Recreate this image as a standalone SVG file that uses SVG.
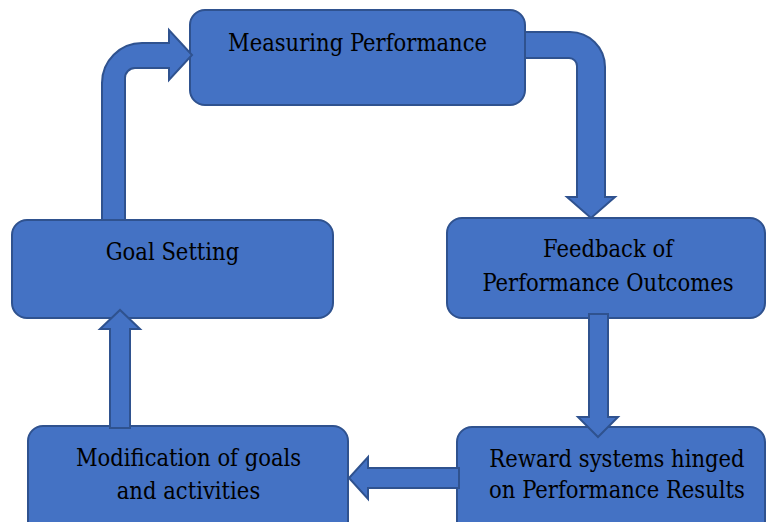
<svg xmlns="http://www.w3.org/2000/svg" width="766" height="522" viewBox="0 0 766 522">
<style>
.box{fill:#4472C4;stroke:#2F528F;stroke-width:2}
.arr{fill:#4472C4;stroke:#2F528F;stroke-width:2;stroke-linejoin:miter}
.t{font-family:'DejaVu Serif Condensed','DejaVu Serif',serif;font-stretch:condensed;font-size:23.5px;fill:#000;text-anchor:middle}
</style>
<rect width="766" height="522" fill="#fff"/>
<g id="measuring">
<rect class="box" x="190" y="10" width="335" height="95" rx="15"/>
<text class="t" x="357.5" y="51">Measuring Performance</text>
</g>
<g id="goal">
<rect class="box" x="12" y="220" width="321" height="98" rx="15"/>
<text class="t" x="172.5" y="260">Goal Setting</text>
</g>
<g id="feedback">
<rect class="box" x="447" y="218" width="318" height="100" rx="15"/>
<text class="t" x="608" y="257">Feedback of</text>
<text class="t" x="608" y="291">Performance Outcomes</text>
</g>
<g id="modification">
<rect class="box" x="28" y="426" width="320" height="110" rx="15"/>
<text class="t" x="188.5" y="466">Modification of goals</text>
<text class="t" x="188.5" y="499">and activities</text>
</g>
<g id="reward">
<rect class="box" x="457" y="427" width="308" height="110" rx="15"/>
<text class="t" x="617" y="467">Reward systems hinged</text>
<text class="t" x="617" y="498">on Performance Results</text>
</g>
<g id="connectors">
<path class="arr" d="M102,220 L102,83 A40,40 0 0 1 142,43 L169,43 L169,30 L192,55 L169,80 L169,68 L135,68 A10,10 0 0 0 125,78 L125,220 Z"/>
<path class="arr" d="M525,32 L570,32 A35,35 0 0 1 605,67 L605,197 L615,197 L591,218 L567,197 L577,197 L577,66 A8,8 0 0 0 569,58 L525,58 Z"/>
<path class="arr" d="M589,314 L608,314 L608,417 L618,417 L598,437 L578,417 L589,417 Z"/>
<path class="arr" d="M459,468 L459,488 L368,488 L368,499 L349,478 L368,457 L368,468 Z"/>
<path class="arr" d="M110,428 L130,428 L130,329 L140,329 L120,310 L100,329 L110,329 Z"/>
</g>
</svg>
